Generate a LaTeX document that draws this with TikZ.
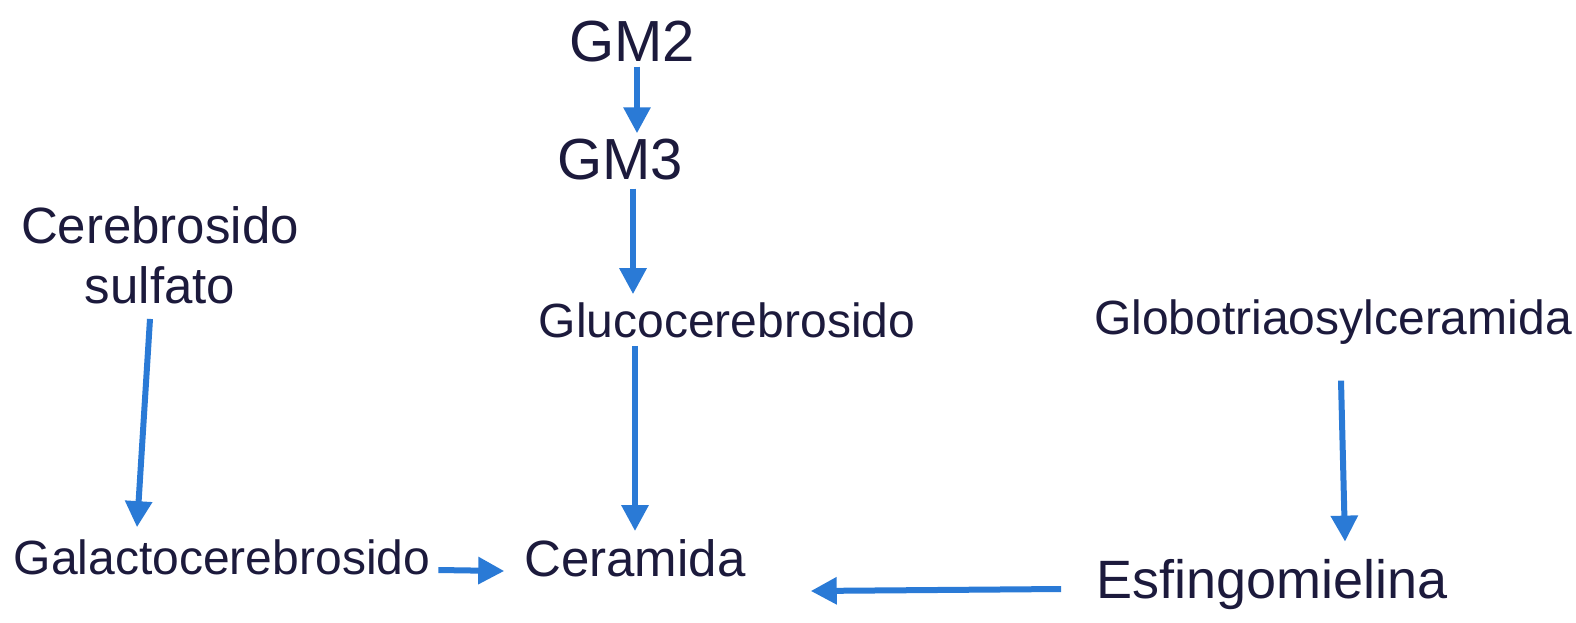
\documentclass[tikz,border=0pt]{standalone}
\usepackage{fontspec}
\setmainfont{Liberation Sans}
\usetikzlibrary{arrows.meta}
\definecolor{ink}{HTML}{1C1A3C}
\definecolor{pen}{HTML}{2A7AD6}
\begin{document}
\begin{tikzpicture}[x=1pt,y=-1pt,
  lbl/.style={text=ink, inner sep=0pt, anchor=center},
  fs/.style={font=\fontsize{#1}{60}\selectfont},
  flow/.style={draw=pen, line width=6pt, -{Triangle[length=26pt,width=26pt]}}]
\useasboundingbox (0,0) rectangle (1576,622);
\fill[white] (0,0) rectangle (1576,622);
\node[lbl, fs=58] (gm2) at (632,42) {GM2};
\node[lbl, fs=58] (gm3) at (620,160) {GM3};
\node[lbl, fs=48] (glu) at (727,320) {Glucocerebrosido};
\node[lbl, fs=51, align=center] (cs) at (160,255) {Cerebrosido\\sulfato};
\node[lbl, fs=48] (gal) at (222,557) {Galactocerebrosido};
\node[lbl, fs=51] (cer) at (635,558) {Ceramida};
\node[lbl, fs=48] (glo) at (1333,322) {Globotriaosylceramida};
\node[lbl, fs=54] (esf) at (1272,585) {Esfingomielina};
\draw[flow] ([xshift=5,yshift=-4]gm2.south) -- ([xshift=17,yshift=6]gm3.north);
\draw[flow] ([xshift=13,yshift=-8]gm3.south) -- ([xshift=-94,yshift=8]glu.north);
\draw[flow] ([xshift=-92,yshift=-8]glu.south) -- ([yshift=8]cer.north);
\draw[flow] ([xshift=-10,yshift=-15]cs.south) -- ([xshift=-85,yshift=12]gal.north);
\draw[flow] ([xshift=8,yshift=-36]glo.south) -- ([xshift=73,yshift=18]esf.north);
\draw[flow] ([xshift=8,yshift=-13]gal.east) -- ([xshift=-20,yshift=-13]cer.west);
\draw[flow] ([xshift=-35,yshift=-4]esf.west) -- ([xshift=65,yshift=-33]cer.east);
\end{tikzpicture}
\end{document}
